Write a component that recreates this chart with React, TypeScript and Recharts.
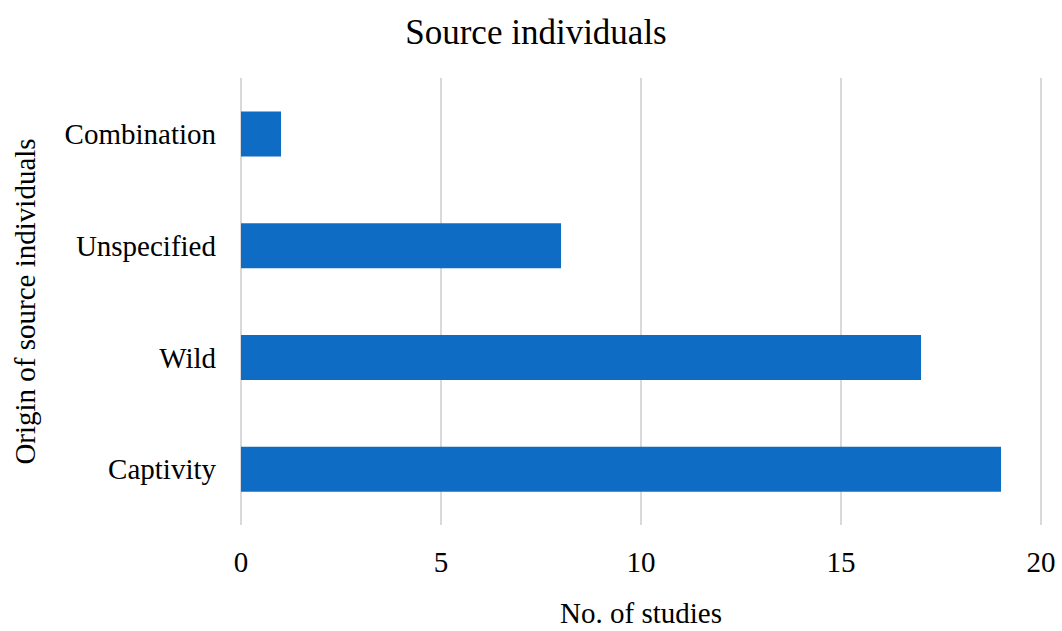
import { Bar, BarChart, CartesianGrid, Label, XAxis, YAxis } from "recharts";

const categories = ["Combination", "Unspecified", "Wild", "Captivity"];
const studies = [1, 8, 17, 19];
const xTicks = [0, 5, 10, 15, 20];

const data = categories.map((name, i) => ({ name, studies: studies[i] }));

const font = "'Liberation Serif', 'Times New Roman', serif";
const textStyle = { fill: "#000", fontSize: 29, fontFamily: font };

export default function App() {
  return (
    <div style={{ position: "absolute", left: 0, top: 0, width: 1062, height: 631, background: "#fff", fontFamily: font }}>
      <div
        style={{
          position: "absolute",
          top: 15,
          left: 5,
          width: 1062,
          textAlign: "center",
          fontSize: 35,
          lineHeight: "35px",
          color: "#000",
        }}
      >
        Source individuals
      </div>
      <BarChart
        width={1062}
        height={631}
        data={data}
        layout="vertical"
        margin={{ top: 78, right: 21, bottom: 0, left: 0 }}
        barCategoryGap="30%"
      >
        <CartesianGrid horizontal={false} stroke="#d9d9d9" strokeWidth={2} />
        <XAxis
          type="number"
          domain={[0, 20]}
          ticks={xTicks}
          axisLine={false}
          tickLine={false}
          tickSize={0}
          tickMargin={26}
          height={106}
          tick={textStyle}
        >
          <Label value="No. of studies" position="insideBottom" offset={8} style={textStyle} />
        </XAxis>
        <YAxis
          type="category"
          dataKey="name"
          axisLine={false}
          tickLine={false}
          tickSize={0}
          tickMargin={25}
          width={241}
          tick={textStyle}
        >
          <Label
            value="Origin of source individuals"
            angle={-90}
            position="insideLeft"
            offset={25}
            style={{ ...textStyle, textAnchor: "middle" }}
          />
        </YAxis>
        <Bar dataKey="studies" fill="#0f6cc4" isAnimationActive={false} />
      </BarChart>
    </div>
  );
}
